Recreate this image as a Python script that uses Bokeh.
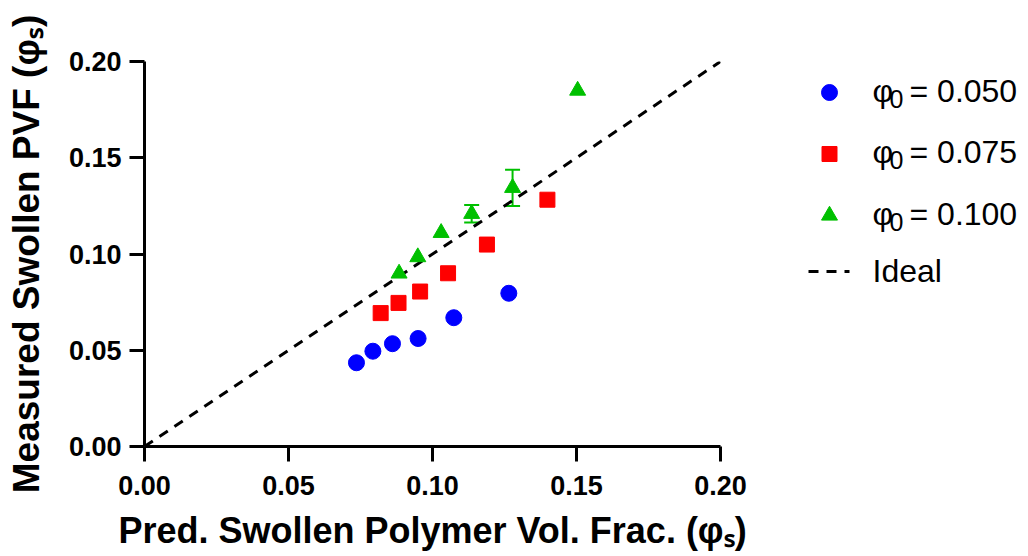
from bokeh.plotting import figure
from bokeh.layouts import row
from bokeh.models import Range1d, FixedTicker, PrintfTickFormatter, ColumnDataSource, Whisker, TeeHead
from bokeh.core.properties import value
from bokeh.embed import file_html
from bokeh.resources import INLINE

# ---- data ----
blue_x = [0.0736, 0.0793, 0.0861, 0.0950, 0.1074, 0.1265]
blue_y = [0.0435, 0.0495, 0.0534, 0.0561, 0.0669, 0.0796]
red_x = [0.0820, 0.0882, 0.0957, 0.1054, 0.1189, 0.1399]
red_y = [0.0693, 0.0746, 0.0805, 0.0900, 0.1049, 0.1282]
green_x = [0.0884, 0.0949, 0.1030, 0.1136, 0.1278, 0.1504]
green_y = [0.0899, 0.0984, 0.1110, 0.1209, 0.1344, 0.1849]
green_err = [0.0, 0.0, 0.0, 0.0045, 0.0094, 0.0]
ideal_x = [0.0, 0.2]
ideal_y = [0.0, 0.2]
ticks = [0.0, 0.05, 0.10, 0.15, 0.20]

series_labels = ["0.050", "0.075", "0.100"]
series_colors = ["#0000FF", "#FF0000", "#00C000"]
series_markers = ["circle", "square", "triangle"]
series_sizes = [16, 15, 16]
ideal_label = "Ideal"

FONT = "Liberation Sans"
BLACK = "#000000"

H = 553
TOP = 61
BOTTOM = 107
MAIN_W = 760
LEG_W = 260

p = figure(width=MAIN_W, height=H, output_backend="svg", toolbar_location=None,
           x_range=Range1d(0, 0.2), y_range=Range1d(0, 0.2),
           min_border_left=144, min_border_right=MAIN_W - 144 - 576,
           min_border_top=TOP, min_border_bottom=BOTTOM)
p.outline_line_color = None
p.grid.visible = False
p.background_fill_color = "white"
p.border_fill_color = "white"

for ax in (p.xaxis[0], p.yaxis[0]):
    ax.ticker = FixedTicker(ticks=ticks)
    ax.formatter = PrintfTickFormatter(format="%.2f")
    ax.axis_line_width = 3
    ax.axis_line_color = BLACK
    ax.major_tick_line_width = 3
    ax.major_tick_line_color = BLACK
    ax.major_tick_out = 15
    ax.major_tick_in = 0
    ax.minor_tick_line_color = None
    ax.major_label_text_font = FONT
    ax.major_label_text_font_style = "bold"
    ax.major_label_text_font_size = "27px"
    ax.major_label_text_color = BLACK
    ax.axis_label_text_font = FONT
    ax.axis_label_text_font_style = "bold"
    ax.axis_label_text_color = BLACK

p.xaxis[0].axis_label = "Pred. Swollen Polymer Vol. Frac. (\u03c6\u209b)"
p.yaxis[0].axis_label = "Measured Swollen PVF (\u03c6\u209b)"
p.xaxis[0].axis_label_text_font_size = "36px"
p.yaxis[0].axis_label_text_font_size = "37px"
p.xaxis[0].major_label_standoff = 14
p.xaxis[0].axis_label_standoff = 12
p.yaxis[0].major_label_standoff = 8
p.yaxis[0].axis_label_standoff = 19

p.line(ideal_x, ideal_y, line_color=BLACK, line_width=3, line_dash="10 8")

# error bars
ex = [x for x, e in zip(green_x, green_err) if e > 0]
ey = [y for y, e in zip(green_y, green_err) if e > 0]
ee = [e for e in green_err if e > 0]
esrc = ColumnDataSource(dict(x=ex, upper=[y + e for y, e in zip(ey, ee)], lower=[y - e for y, e in zip(ey, ee)]))
p.add_layout(Whisker(source=esrc, base="x", upper="upper", lower="lower", dimension="height",
                     line_color=series_colors[2], line_width=2,
                     upper_head=TeeHead(size=15, line_color=series_colors[2], line_width=2),
                     lower_head=TeeHead(size=15, line_color=series_colors[2], line_width=2)))

xs = [blue_x, red_x, green_x]
ys = [blue_y, red_y, green_y]
for x, y, c, m, s in zip(xs, ys, series_colors, series_markers, series_sizes):
    p.scatter(x, y, marker=m, size=s, fill_color=c, line_color=c, line_width=1)

# ---- legend panel (coordinates in page pixels) ----
x0 = MAIN_W + 1
L = figure(width=LEG_W, height=H, output_backend="svg", toolbar_location=None,
           x_range=Range1d(x0, x0 + LEG_W), y_range=Range1d(TOP + 1 + 385, TOP + 1),
           min_border_left=0, min_border_right=0, min_border_top=TOP, min_border_bottom=BOTTOM)
L.axis.visible = False
L.grid.visible = False
L.outline_line_color = None

row0 = 93
row_gap = 61.5
mx = 830
for i, (lab, c, m, s) in enumerate(zip(series_labels, series_colors, series_markers, series_sizes)):
    yy = row0 + i * row_gap
    L.scatter([mx], [yy], marker=m, size=s, fill_color=c, line_color=c)
    L.text([873], [yy - 2], text=["\u03c6"], text_font=value(FONT), text_font_size="32px",
           text_baseline="alphabetic", text_align="left", text_color=BLACK)
    L.text([890], [yy + 6], text=["0"], text_font=value(FONT), text_font_size="25px",
           text_baseline="alphabetic", text_align="left", text_color=BLACK)
    L.text([910], [yy - 2], text=["= " + lab], text_font=value(FONT), text_font_size="32px",
           text_baseline="alphabetic", text_align="left", text_color=BLACK)

yy = 272
L.line([809, 850], [yy, yy], line_color=BLACK, line_width=3, line_dash="10 8")
L.text([873], [yy - 1], text=[ideal_label], text_font=value(FONT), text_font_size="32px",
       text_baseline="alphabetic", text_align="left", text_color=BLACK)

layout = row(p, L)
open("out.html", "w").write(file_html(layout, INLINE))
